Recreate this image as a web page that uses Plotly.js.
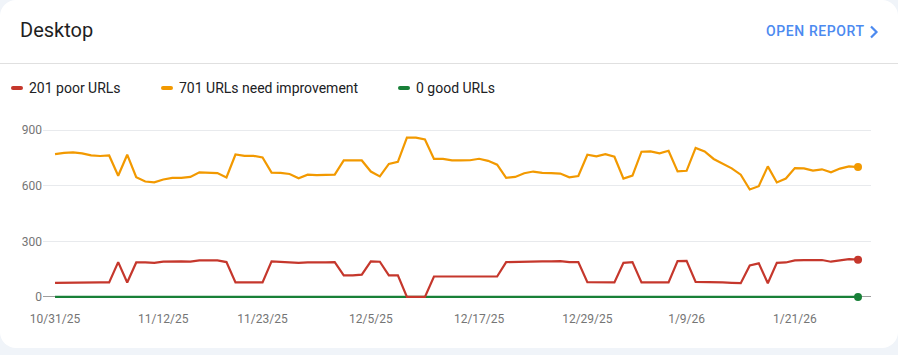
<!DOCTYPE html>
<html>
<head>
<meta charset="utf-8">
<script src="https://cdn.plot.ly/plotly-3.0.1.min.js"></script>
<style>
  html, body { margin:0; padding:0; width:898px; height:355px; background:#f0f4f9; overflow:hidden; font-family: Roboto, "Noto Sans", sans-serif; }
  .card { position:absolute; left:0; top:0; width:898px; height:348px; background:#ffffff; border-radius:16px; }
  .title { position:absolute; left:20px; top:17px; font-size:20px; color:#1f1f1f; line-height:26px; }
  .open { position:absolute; left:766px; top:23px; font-size:14px; font-weight:500; color:#4c8af0; letter-spacing:0.6px; line-height:16px; }
  .chev { position:absolute; left:869px; top:25px; }
  .divider { position:absolute; left:0; top:63px; width:898px; height:1px; background:#e0e0e0; }
  .leg { position:absolute; top:79px; height:18px; font-size:14px; color:#202124; line-height:18px; white-space:nowrap; }
  .sw { position:absolute; width:12px; height:4px; border-radius:2px; top:86px; }
  #chart { position:absolute; left:0; top:0; width:898px; height:355px; }
</style>
</head>
<body>
<div class="card"></div>
<div class="title">Desktop</div>
<div class="open">OPEN REPORT</div>
<svg class="chev" width="10" height="14" viewBox="0 0 10 14"><path d="M2 1.5 L7.5 7 L2 12.5" fill="none" stroke="#4c8af0" stroke-width="2.2"/></svg>
<div class="divider"></div>
<div id="legend"></div>
<div id="chart"></div>
<script>
const dates = [
 "2025-10-31",
 "2025-11-01","2025-11-02","2025-11-03","2025-11-04","2025-11-05","2025-11-06","2025-11-07","2025-11-08","2025-11-09","2025-11-10",
 "2025-11-11","2025-11-12","2025-11-13","2025-11-14","2025-11-15","2025-11-16","2025-11-17","2025-11-18","2025-11-19","2025-11-20",
 "2025-11-21","2025-11-22","2025-11-23","2025-11-24","2025-11-25","2025-11-26","2025-11-27","2025-11-28","2025-11-29","2025-11-30",
 "2025-12-01","2025-12-02","2025-12-03","2025-12-04","2025-12-05","2025-12-06","2025-12-07","2025-12-08","2025-12-09","2025-12-10",
 "2025-12-11","2025-12-12","2025-12-13","2025-12-14","2025-12-15","2025-12-16","2025-12-17","2025-12-18","2025-12-19","2025-12-20",
 "2025-12-21","2025-12-22","2025-12-23","2025-12-24","2025-12-25","2025-12-26","2025-12-27","2025-12-28","2025-12-29","2025-12-30","2025-12-31",
 "2026-01-01","2026-01-02","2026-01-03","2026-01-04","2026-01-05","2026-01-06","2026-01-07","2026-01-08","2026-01-09","2026-01-10",
 "2026-01-11","2026-01-12","2026-01-13","2026-01-14","2026-01-15","2026-01-16","2026-01-17","2026-01-18","2026-01-19","2026-01-20",
 "2026-01-21","2026-01-22","2026-01-23","2026-01-24","2026-01-25","2026-01-26","2026-01-27","2026-01-28"
];

const poor = [
 76,77,77,77,77,78,78,188,78,186,186,184,190,192,192,190,197,197,197,188,
 78,78,78,78,192,188,184,184,186,184,186,188,116,116,120,192,190,116,116,0,
 0,0,110,110,112,114,112,114,110,110,188,190,190,193,192,192,193,188,188,80,
 80,80,78,184,188,78,78,78,78,193,195,81,81,80,78,76,74,170,181,74,
 184,186,197,199,199,199,190,195,204,201
];

const needsImprovement = [
 771,778,780,775,764,761,764,654,768,646,623,619,634,643,643,648,673,670,669,645,
 769,762,762,753,671,670,664,641,660,658,658,660,737,738,737,677,651,718,729,860,
 860,850,745,745,737,737,738,746,735,714,643,648,668,677,670,668,666,646,653,768,
 759,771,757,639,655,784,786,775,789,678,681,805,786,745,721,694,660,580,598,705,
 618,639,696,694,682,689,673,693,705,701
];

const good = [
 0,0,0,0,0,0,0,0,0,0,0,0,0,0,0,0,0,0,0,0,
 0,0,0,0,0,0,0,0,0,0,0,0,0,0,0,0,0,0,0,0,
 0,0,0,0,0,0,0,0,0,0,0,0,0,0,0,0,0,0,0,0,
 0,0,0,0,0,0,0,0,0,0,0,0,0,0,0,0,0,0,0,0,
 0,0,0,0,0,0,0,0,0,0
];

const xTickVals = ["2025-10-31","2025-11-12","2025-11-23","2025-12-05","2025-12-17","2025-12-29","2026-01-09","2026-01-21"];
const xTickText = ["10/31/25","11/12/25","11/23/25","12/5/25","12/17/25","12/29/25","1/9/26","1/21/26"];
const yTickVals = [0, 300, 600, 900];
const yTickText = ["0", "300", "600", "900"];

const seriesNames = ["poor URLs", "URLs need improvement", "good URLs"];
const colors = { poor: "#c5372c", ni: "#f29900", good: "#188038" };

// custom legend (HTML text)
const legendDefs = [
  { label: poor[poor.length-1] + " " + seriesNames[0], color: colors.poor, sw: 11, tx: 29 },
  { label: needsImprovement[needsImprovement.length-1] + " " + seriesNames[1], color: colors.ni, sw: 161, tx: 179 },
  { label: good[good.length-1] + " " + seriesNames[2], color: colors.good, sw: 398, tx: 416 }
];
const legEl = document.getElementById("legend");
legendDefs.forEach(d => {
  const s = document.createElement("div");
  s.className = "sw"; s.style.left = d.sw + "px"; s.style.background = d.color;
  legEl.appendChild(s);
  const t = document.createElement("div");
  t.className = "leg"; t.style.left = d.tx + "px"; t.textContent = d.label;
  legEl.appendChild(t);
});

const n = dates.length;
function lineTrace(y, color, name) {
  return { x: dates, y: y, type: "scatter", mode: "lines", name: name,
           line: { color: color, width: 2.2 }, hoverinfo: "skip" };
}
function endTrace(y, color, name) {
  return { x: [dates[n-1]], y: [y[n-1]], type: "scatter", mode: "markers", name: name,
           marker: { color: color, size: 8 }, hoverinfo: "skip", cliponaxis: false };
}

const data = [
  lineTrace(good, colors.good, seriesNames[2]),
  lineTrace(needsImprovement, colors.ni, seriesNames[1]),
  lineTrace(poor, colors.poor, seriesNames[0]),
  endTrace(good, colors.good, seriesNames[2]),
  endTrace(needsImprovement, colors.ni, seriesNames[1]),
  endTrace(poor, colors.poor, seriesNames[0])
];

const layout = {
  width: 898, height: 355,
  margin: { l: 43, r: 27, t: 121, b: 57 },
  paper_bgcolor: "rgba(0,0,0,0)",
  plot_bgcolor: "rgba(0,0,0,0)",
  showlegend: false,
  font: { family: "Roboto, 'Noto Sans', sans-serif", size: 12, color: "#757575" },
  xaxis: {
    type: "date",
    range: ["2025-10-29 16:00", "2026-01-29 10:30"],
    tickvals: xTickVals, ticktext: xTickText,
    showgrid: false, zeroline: false, showline: false,
    ticks: "", ticklabelstandoff: 12,
    tickfont: { size: 12, color: "#757575" }
  },
  yaxis: {
    range: [-6, 950],
    tickvals: yTickVals, ticktext: yTickText,
    showgrid: true, gridcolor: "#e8eaed", gridwidth: 1,
    zeroline: true, zerolinecolor: "#9e9e9e", zerolinewidth: 1,
    showline: false, ticks: "",
    tickfont: { size: 12, color: "#757575" }
  }
};

Plotly.newPlot("chart", data, layout, { displayModeBar: false, staticPlot: true });
</script>
</body>
</html>
